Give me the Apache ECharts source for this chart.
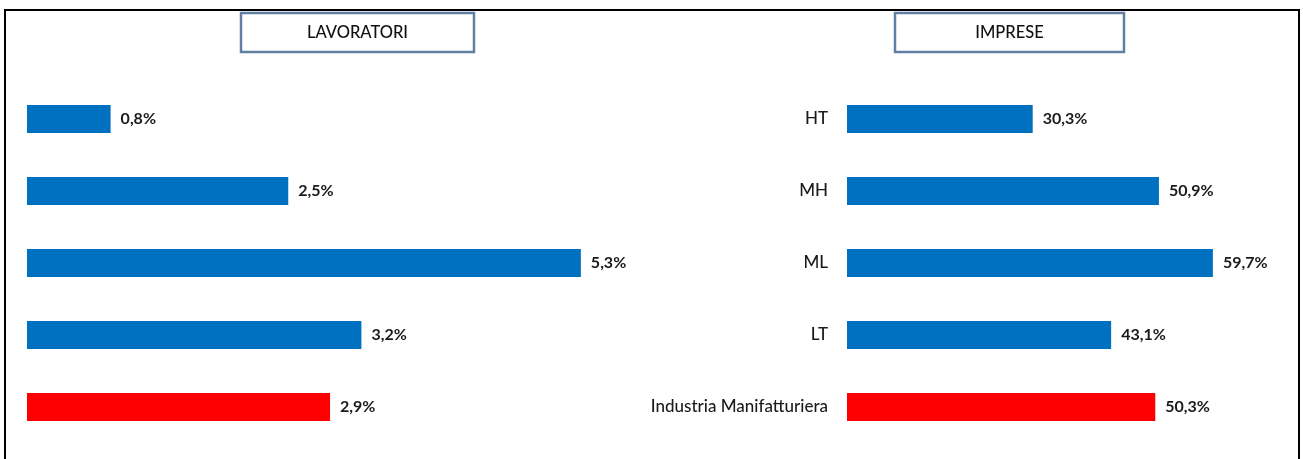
<!DOCTYPE html>
<html>
<head>
<meta charset="utf-8">
<script src="https://cdn.jsdelivr.net/npm/echarts@6/dist/echarts.min.js"></script>
<style>
html,body{margin:0;padding:0;background:#fff;}
#c{width:1303px;height:459px;}
</style>
</head>
<body>
<div id="c"></div>
<script>
const categories = ['HT', 'MH', 'ML', 'LT', 'Industria Manifatturiera'];
const lavoratori = [0.8, 2.5, 5.3, 3.2, 2.9];
const imprese = [30.3, 50.9, 59.7, 43.1, 50.3];
const panelTitles = ['LAVORATORI', 'IMPRESE'];

const BLUE = '#0070C0', RED = '#FF0000';
const FONT = 'Lato, "Open Sans", sans-serif';
function fmt(v){ return v.toFixed(1).replace('.', ',') + '%'; }
function colored(arr){
  return arr.map((v, i) => ({ value: v, itemStyle: { color: i === arr.length - 1 ? RED : BLUE } }));
}

const chart = echarts.init(document.getElementById('c'), null, { renderer: 'canvas' });
const labelCfg = {
  show: true, position: 'right', distance: 10,
  formatter: p => fmt(p.value),
  fontFamily: FONT, fontSize: 16, fontWeight: 'bold', color: '#1a1a1a'
};
function titleBox(x, w, text){
  return {
    type: 'group',
    children: [
      { type: 'rect', shape: { x: x, y: 13, width: w, height: 39 },
        style: { fill: '#fff', stroke: '#627fa3', lineWidth: 2.5 } },
      { type: 'text', x: x + w / 2, y: 32.5,
        style: { text: text, fill: '#111', font: '500 16.5px ' + FONT, textAlign: 'center', textVerticalAlign: 'middle' } }
    ]
  };
}
chart.setOption({
  backgroundColor: '#fff',
  animation: false,
  graphic: [
    { type: 'rect', shape: { x: 5, y: 10, width: 1294, height: 470 },
      style: { fill: 'none', stroke: '#000', lineWidth: 2 }, z: -1 },
    titleBox(241, 233, panelTitles[0]),
    titleBox(895, 229, panelTitles[1])
  ],
  grid: [
    { left: 27, top: 83, width: 627, height: 360 },
    { left: 847, top: 83, width: 429, height: 360 }
  ],
  xAxis: [
    { gridIndex: 0, type: 'value', min: 0, max: 6, show: false },
    { gridIndex: 1, type: 'value', min: 0, max: 70, show: false }
  ],
  yAxis: [
    { gridIndex: 0, type: 'category', data: categories, inverse: true,
      axisLine: { show: false }, axisTick: { show: false }, axisLabel: { show: false } },
    { gridIndex: 1, type: 'category', data: categories, inverse: true,
      axisLine: { show: false }, axisTick: { show: false },
      axisLabel: { show: true, margin: 19, fontFamily: FONT, fontSize: 17, fontWeight: 500, color: '#1a1a1a' } }
  ],
  series: [
    { type: 'bar', xAxisIndex: 0, yAxisIndex: 0, data: colored(lavoratori), barWidth: 28, label: labelCfg },
    { type: 'bar', xAxisIndex: 1, yAxisIndex: 1, data: colored(imprese), barWidth: 28, label: labelCfg }
  ]
});
</script>
</body>
</html>
